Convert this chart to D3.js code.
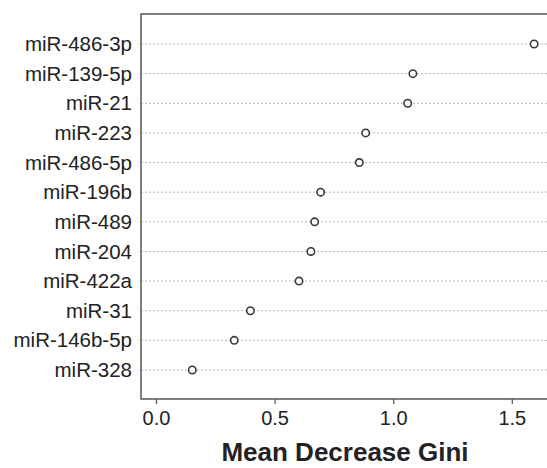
<!DOCTYPE html>
<html>
<head>
<meta charset="utf-8">
<script src="https://cdn.jsdelivr.net/npm/d3@7"></script>
<style>
  body { margin: 0; background: white; }
  text { font-family: "Liberation Sans", Arial, sans-serif; fill: #222; }
</style>
</head>
<body>
<div id="chart"></div>
<script>
var mirnas = ["miR-486-3p", "miR-139-5p", "miR-21", "miR-223", "miR-486-5p", "miR-196b",
  "miR-489", "miR-204", "miR-422a", "miR-31", "miR-146b-5p", "miR-328"];
var giniValues = [1.594, 1.083, 1.061, 0.884, 0.857, 0.694, 0.669, 0.653, 0.603, 0.398, 0.330, 0.153];
var tickValues = [0, 0.5, 1.0, 1.5];

var svgWidth = 547;
var svgHeight = 468;

var box = { left: 141, top: 14, right: 552, bottom: 399 };

var svg = d3.select("#chart")
  .append("svg")
  .attr("width", svgWidth)
  .attr("height", svgHeight);

// x scale: 0 sits at 156px, 0.5 per ~118.6px
var x = d3.scaleLinear()
  .domain([0, 1.5])
  .range([156, 511.8]);

var y = d3.scalePoint()
  .domain(mirnas)
  .range([44, 370]);

// dotted guide lines
svg.append("g")
  .selectAll("line")
  .data(mirnas)
  .enter()
  .append("line")
  .attr("x1", box.left)
  .attr("x2", box.right)
  .attr("y1", d => y(d))
  .attr("y2", d => y(d))
  .attr("stroke", "#b5b5b5")
  .attr("stroke-width", 1)
  .attr("stroke-dasharray", "2,2");

// plot frame
svg.append("rect")
  .attr("x", box.left)
  .attr("y", box.top)
  .attr("width", box.right - box.left)
  .attr("height", box.bottom - box.top)
  .attr("fill", "none")
  .attr("stroke", "#555")
  .attr("stroke-width", 1.5);

// points
svg.append("g")
  .selectAll("circle")
  .data(mirnas)
  .enter()
  .append("circle")
  .attr("cx", (d, i) => x(giniValues[i]))
  .attr("cy", d => y(d))
  .attr("r", 3.7)
  .attr("fill", "white")
  .attr("stroke", "#3a3a3a")
  .attr("stroke-width", 1.6);

// y labels
var leftAxis = d3.axisLeft(y).tickSize(0).tickPadding(9);
var gy = svg.append("g")
  .attr("transform", `translate(${box.left}, 0)`)
  .call(leftAxis);
gy.select(".domain").remove();
gy.selectAll("text")
  .style("font-size", "20.5px")
  .attr("fill", "#222");

// x axis
var bottomAxis = d3.axisBottom(x)
  .tickValues(tickValues)
  .tickFormat(d3.format(".1f"))
  .tickSize(5)
  .tickPadding(7);
var gx = svg.append("g")
  .attr("transform", `translate(0, ${box.bottom})`)
  .call(bottomAxis);
gx.select(".domain").remove();
gx.selectAll("line").attr("stroke", "#555").attr("stroke-width", 1.2);
gx.selectAll("text")
  .style("font-size", "20px")
  .attr("fill", "#222");

// x title
svg.append("text")
  .attr("x", 345)
  .attr("y", 461)
  .attr("text-anchor", "middle")
  .style("font-size", "26px")
  .style("font-weight", "bold")
  .text("Mean Decrease Gini");
</script>
</body>
</html>
